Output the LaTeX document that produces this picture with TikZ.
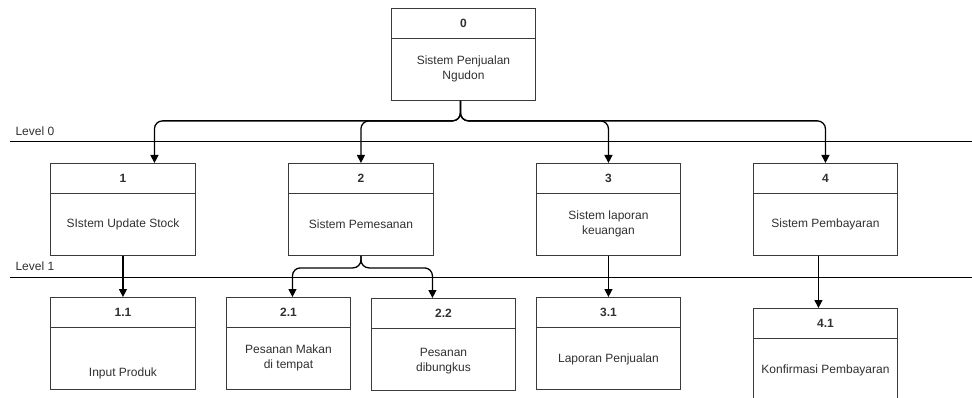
\documentclass[tikz,border=0pt]{standalone}
\usepackage{fontspec}
\setmainfont{Liberation Sans}
\usetikzlibrary{arrows.meta,positioning}
\definecolor{BoxGray}{HTML}{3A3A3A}
\definecolor{TextGray}{HTML}{303030}

\tikzset{
  proc/.style={draw=BoxGray, line width=0.9pt, minimum height=92pt, inner sep=0pt,
    anchor=north west,
    path picture={\draw[BoxGray, line width=0.9pt]
      ([yshift=-30pt]path picture bounding box.north west) --
      ([yshift=-30pt]path picture bounding box.north east);}},
  head/.style={font=\fontsize{12}{14}\selectfont\bfseries, text=TextGray},
  desc/.style={font=\fontsize{12}{14.5}\selectfont, align=center, text=TextGray},
  flow/.style={-{Triangle[length=8pt,width=8pt]}, line width=1.3pt, rounded corners=8pt},
}

\begin{document}
\begin{tikzpicture}[x=1pt,y=-1pt]
  \useasboundingbox (0,0) rectangle (972,398);
  \clip (0,0) rectangle (972,398);

  % Level lines
  \foreach \y/\lab in {142/0, 277/1} {
    \draw[line width=1pt] (10,\y) -- (972,\y);
    \node[desc, anchor=south west] (lv\lab) at (12,\y-3) {Level \lab};
  }

  % Level 0
  \node[proc, minimum width=144pt] (p0) at (391,8) {};
  \node[head] (p0h) at ([yshift=-15pt]p0.north) {0};
  \node[desc] (p0t) at ([yshift=-61pt]p0.north) {Sistem Penjualan\\Ngudon};

  % Level 1
  \node[proc, minimum width=145pt] (p1) at (50,163) {};
  \node[head] (p1h) at ([yshift=-15pt]p1.north) {1};
  \node[desc] (p1t) at ([yshift=-61pt]p1.north) {SIstem Update Stock};

  \node[proc, minimum width=145pt] (p2) at (288,163) {};
  \node[head] (p2h) at ([yshift=-15pt]p2.north) {2};
  \node[desc] (p2t) at ([yshift=-61pt]p2.north) {Sistem Pemesanan};

  \node[proc, minimum width=144pt] (p3) at (536,163) {};
  \node[head] (p3h) at ([yshift=-15pt]p3.north) {3};
  \node[desc] (p3t) at ([yshift=-61pt]p3.north) {Sistem laporan\\keuangan};

  \node[proc, minimum width=144pt] (p4) at (753,163) {};
  \node[head] (p4h) at ([yshift=-15pt]p4.north) {4};
  \node[desc] (p4t) at ([yshift=-61pt]p4.north) {Sistem Pembayaran};

  % Level 2
  \node[proc, minimum width=145pt] (p11) at (50,297) {};
  \node[head] (p11h) at ([yshift=-15pt]p11.north) {1.1};
  \node[desc] (p11t) at ([yshift=-76pt]p11.north) {Input Produk};

  \node[proc, minimum width=124pt] (p21) at (226,297) {};
  \node[head] (p21h) at ([yshift=-15pt]p21.north) {2.1};
  \node[desc] (p21t) at ([yshift=-61pt]p21.north) {Pesanan Makan\\di tempat};

  \node[proc, minimum width=144pt] (p22) at (371,298) {};
  \node[head] (p22h) at ([yshift=-15pt]p22.north) {2.2};
  \node[desc] (p22t) at ([yshift=-63pt]p22.north) {Pesanan\\dibungkus};

  \node[proc, minimum width=144pt] (p31) at (536,297) {};
  \node[head] (p31h) at ([yshift=-15pt]p31.north) {3.1};
  \node[desc] (p31t) at ([yshift=-62pt]p31.north) {Laporan Penjualan};

  \node[proc, minimum width=144pt] (p41) at (753,308) {};
  \node[head] (p41h) at ([yshift=-15pt]p41.north) {4.1};
  \node[desc] (p41t) at ([yshift=-62pt]p41.north) {Konfirmasi Pembayaran};

  % Connectors 0 -> 1..4
  \draw[flow] ([xshift=-3pt]p0.south) -- ++(0,20) -| ([xshift=31.5pt]p1.north);
  \draw[flow] ([xshift=-3pt]p0.south) -- ++(0,20) -| (p2.north);
  \draw[flow] ([xshift=-3pt]p0.south) -- ++(0,20) -| (p3.north);
  \draw[flow] ([xshift=-3pt]p0.south) -- ++(0,20) -| (p4.north);

  % Connectors to level 2
  \draw[flow] (p1.south) -- (p11.north);
  \draw[flow] (p2.south) -- ++(0,12) -| ([xshift=4pt]p21.north);
  \draw[flow] (p2.south) -- ++(0,12) -| ([xshift=-11pt]p22.north);
  \draw[flow] (p3.south) -- (p31.north);
  \draw[flow] ([xshift=-7pt]p4.south) -- ([xshift=-7pt]p41.north);
\end{tikzpicture}
\end{document}
